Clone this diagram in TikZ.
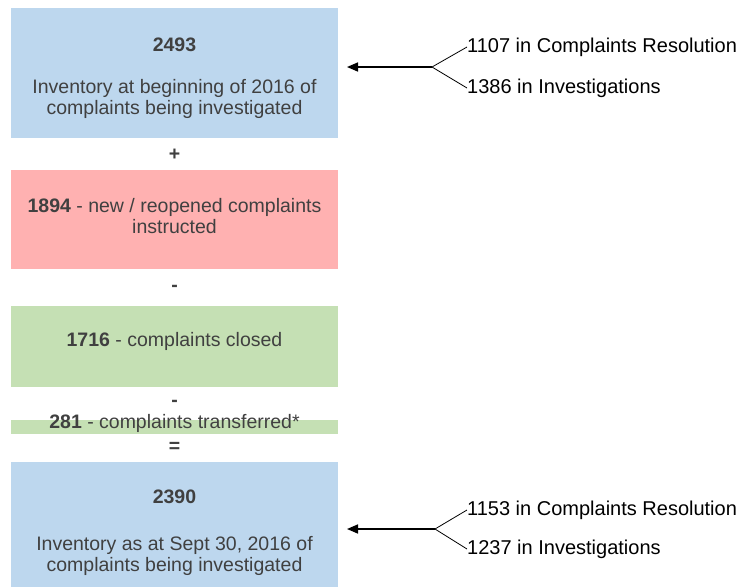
\documentclass[tikz,border=0pt]{standalone}
\usepackage{fontspec}
\setmainfont{Liberation Sans}
\usetikzlibrary{arrows.meta}
\definecolor{boxblue}{HTML}{BDD7EE}
\definecolor{boxpink}{HTML}{FFB1B1}
\definecolor{boxgreen}{HTML}{C5E0B4}
\definecolor{txtgray}{HTML}{404040}
\begin{document}
\begin{tikzpicture}[x=1pt,y=-1pt,
  boxtxt/.style={text=txtgray,font=\fontsize{19.5}{21.5}\selectfont,align=center,inner sep=0pt},
  numtxt/.style={text=txtgray,font=\fontsize{19.5}{21.5}\selectfont\bfseries,inner sep=0pt},
  optxt/.style={text=txtgray,font=\fontsize{19.5}{21.5}\selectfont\bfseries,inner sep=0pt},
  sidetxt/.style={text=black,font=\fontsize{20}{22}\selectfont,anchor=west,inner sep=0pt},
  arr/.style={draw=black,line width=1.6pt,-{Triangle[length=11pt,width=9pt]}},
  branch/.style={draw=black,line width=0.8pt}]
\useasboundingbox (0,0) rectangle (740,587);
% boxes
\fill[boxblue] (11,8) rectangle (338,138);
\fill[boxpink] (11,170) rectangle (338,269);
\fill[boxgreen] (11,306) rectangle (338,387);
\fill[boxgreen] (11,420) rectangle (338,434);
\fill[boxblue] (11,462) rectangle (338,587);
\coordinate (b1) at (338,67);
\coordinate (b5) at (338,529);
% box texts
\node[numtxt] (n1) at (174.5,45) {2493};
\node[boxtxt] (t1) at (174.5,99) {Inventory at beginning of 2016 of\\complaints being investigated};
\node[optxt] (plus) at (174.5,155) {+};
\node[boxtxt] (t2) at (174.5,216) {\textbf{1894} - new / reopened complaints\\instructed};
\node[optxt] (m1) at (174.5,288) {-};
\node[boxtxt] (t3) at (174.5,341) {\textbf{1716} - complaints closed};
\node[optxt] (m2) at (174.5,403) {-};
\node[boxtxt] (t4) at (174.5,423) {\textbf{281} - complaints transferred*};
\node[optxt] (eq) at (174.5,447) {=};
\node[numtxt] (n5) at (174.5,497) {2390};
\node[boxtxt] (t5) at (174.5,556) {Inventory as at Sept 30, 2016 of\\complaints being investigated};
% side notes top
\coordinate (j1) at (432,67);
\node[sidetxt] (s1) at (467,47) {1107 in Complaints Resolution};
\node[sidetxt] (s2) at (467,88) {1386 in Investigations};
\draw[branch] (s1.west) -- (j1) -- (s2.west);
\draw[arr] (j1) -- ([xshift=9pt]b1);
% side notes bottom
\coordinate (j2) at (435,529);
\node[sidetxt] (s3) at (467,510) {1153 in Complaints Resolution};
\node[sidetxt] (s4) at (467,549) {1237 in Investigations};
\draw[branch] (s3.west) -- (j2) -- (s4.west);
\draw[arr] (j2) -- ([xshift=9pt]b5);
\end{tikzpicture}
\end{document}
